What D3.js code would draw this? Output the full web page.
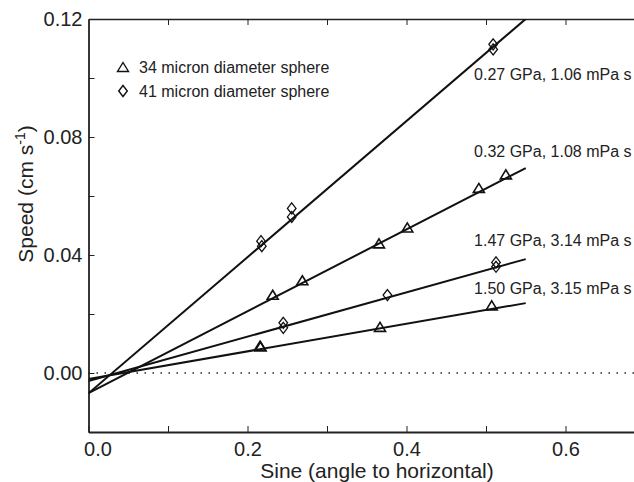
<!DOCTYPE html>
<html>
<head>
<meta charset="utf-8">
<script src="https://cdn.jsdelivr.net/npm/d3@7"></script>
<style>
  body { margin: 0; background: #fff; }
  svg text { font-family: "Liberation Sans", Arial, Helvetica, sans-serif; fill: #222; }
</style>
</head>
<body>
<div id="chart"></div>
<script>
// fitted lines (speed = intercept + slope * sine)
var fitLabels = ['0.27 GPa, 1.06 mPa s', '0.32 GPa, 1.08 mPa s', '1.47 GPa, 3.14 mPa s', '1.50 GPa, 3.15 mPa s'];
var fitIntercepts = [-0.0069, -0.0068, -0.0027, -0.0020];
var fitSlopes = [0.2308, 0.1387, 0.0751, 0.0467];
var fitEnd = 0.55;

// measured points
var triSine = [0.2317, 0.269, 0.3654, 0.401, 0.491, 0.525, 0.2157, 0.2165, 0.3667, 0.5072];
var triSpeed = [0.0262, 0.0311, 0.0436, 0.0490, 0.0624, 0.0670, 0.0089, 0.0087, 0.0153, 0.0226];
var diaSine = [0.217, 0.218, 0.2556, 0.2556, 0.509, 0.509, 0.245, 0.245, 0.376, 0.5126, 0.5126];
var diaSpeed = [0.0447, 0.0430, 0.0558, 0.0529, 0.1114, 0.1097, 0.0170, 0.0153, 0.0264, 0.0375, 0.0360];

var legendLabels = ['34 micron diameter sphere', '41 micron diameter sphere'];
var xTicks = [0, 0.1, 0.2, 0.3, 0.4, 0.5, 0.6, 0.7];
var yTicks = [-0.02, 0, 0.02, 0.04, 0.06, 0.08, 0.10, 0.12];

var W = 634, H = 482;
var mLeft = 88.5, mTop = 19, mBottom = 432;

var svg = d3.select('#chart').append('svg')
  .attr('width', W)
  .attr('height', H);

var x = d3.scaleLinear().domain([0, 0.7]).range([mLeft, mLeft + 0.7 * 795]);
var y = d3.scaleLinear().domain([-0.02, 0.12]).range([mBottom, mTop]);

svg.append('clipPath').attr('id', 'plotclip')
  .append('rect')
  .attr('x', mLeft).attr('y', mTop)
  .attr('width', W - mLeft).attr('height', mBottom - mTop);

// axes
var xAxis = svg.append('g')
  .attr('transform', 'translate(0,' + mBottom + ')')
  .call(d3.axisBottom(x).tickValues(xTicks).tickSizeInner(-6).tickSizeOuter(0).tickPadding(10)
    .tickFormat(function(d) { return Math.round(d * 10) % 2 == 0 && d < 0.65 ? d3.format('.1f')(d) : ''; }));
xAxis.select('.domain').attr('stroke-width', 2.2).attr('stroke', '#222');
xAxis.selectAll('.tick line').attr('stroke', '#222').attr('stroke-width', 1);
xAxis.selectAll('.tick text').style('font-size', '20px').attr('fill', '#222')
  .attr('dx', function(d) { return d == 0 ? 9 : 0; });

var xTop = svg.append('g')
  .attr('transform', 'translate(0,' + mTop + ')')
  .call(d3.axisTop(x).tickValues(xTicks.slice(1)).tickSizeInner(-6).tickSizeOuter(0).tickFormat(''));
xTop.select('.domain').attr('stroke-width', 1.5).attr('stroke', '#222');
xTop.selectAll('.tick line').attr('stroke', '#222');

var yAxis = svg.append('g')
  .attr('transform', 'translate(' + mLeft + ',0)')
  .call(d3.axisLeft(y).tickValues(yTicks).tickSizeInner(-6).tickSizeOuter(0).tickPadding(6)
    .tickFormat(function(d) { var k = Math.round(d * 100); return k >= 0 && k % 4 == 0 ? d3.format('.2f')(d) : ''; }));
yAxis.select('.domain').attr('stroke-width', 1.8).attr('stroke', '#222');
yAxis.selectAll('.tick line').attr('stroke', '#222');
yAxis.selectAll('.tick text').style('font-size', '20px').attr('fill', '#222');

// zero reference
svg.append('line')
  .attr('x1', mLeft).attr('x2', W)
  .attr('y1', y(0)).attr('y2', y(0))
  .attr('stroke', '#222').attr('stroke-width', 1.3)
  .attr('stroke-dasharray', '1.5,6.5');

// fitted lines
var plot = svg.append('g').attr('clip-path', 'url(#plotclip)');
fitSlopes.forEach(function(s, i) {
  plot.append('line')
    .attr('x1', x(0)).attr('y1', y(fitIntercepts[i]))
    .attr('x2', x(fitEnd)).attr('y2', y(fitIntercepts[i] + s * fitEnd))
    .attr('stroke', '#111').attr('stroke-width', 2);
});

// markers
function triPath(cx, cy) {
  return 'M' + cx + ',' + (cy - 5.5) + 'L' + (cx + 5.5) + ',' + (cy + 3.5) + 'L' + (cx - 5.5) + ',' + (cy + 3.5) + 'Z';
}
function diaPath(cx, cy) {
  return 'M' + cx + ',' + (cy - 5.5) + 'L' + (cx + 4.3) + ',' + cy + 'L' + cx + ',' + (cy + 5.5) + 'L' + (cx - 4.3) + ',' + cy + 'Z';
}
svg.selectAll('.tri').data(triSine).enter().append('path')
  .attr('class', 'tri')
  .attr('d', function(d, i) { return triPath(x(d), y(triSpeed[i])); })
  .attr('fill', 'none').attr('stroke', '#111').attr('stroke-width', 1.6);
svg.selectAll('.dia').data(diaSine).enter().append('path')
  .attr('class', 'dia')
  .attr('d', function(d, i) { return diaPath(x(d), y(diaSpeed[i])); })
  .attr('fill', 'none').attr('stroke', '#111').attr('stroke-width', 1.3);

// line labels
var labelX = 0.485;
var labelY = [0.0992, 0.0731, 0.0430, 0.0267];
fitLabels.forEach(function(t, i) {
  svg.append('text')
    .attr('x', x(labelX)).attr('y', y(labelY[i]))
    .style('font-size', '16px')
    .text(t);
});

// legend
legendLabels.forEach(function(t, i) {
  var ly = 67 + i * 24;
  svg.append('path')
    .attr('d', i == 0 ? triPath(123, ly + 1) : diaPath(123, ly))
    .attr('fill', 'none').attr('stroke', '#111').attr('stroke-width', 1.4);
  svg.append('text')
    .attr('x', 139).attr('y', ly + 6)
    .style('font-size', '16px')
    .text(t);
});

// axis titles
svg.append('text')
  .attr('x', 377).attr('y', 478)
  .attr('text-anchor', 'middle')
  .style('font-size', '21px')
  .text('Sine (angle to horizontal)');

var yt = svg.append('text')
  .attr('transform', 'translate(33,194) rotate(-90)')
  .attr('text-anchor', 'middle')
  .style('font-size', '21px');
yt.append('tspan').text('Speed (cm s');
yt.append('tspan').attr('dy', -8).style('font-size', '14px').text('-1');
yt.append('tspan').attr('dy', 8).text(')');
</script>
</body>
</html>
